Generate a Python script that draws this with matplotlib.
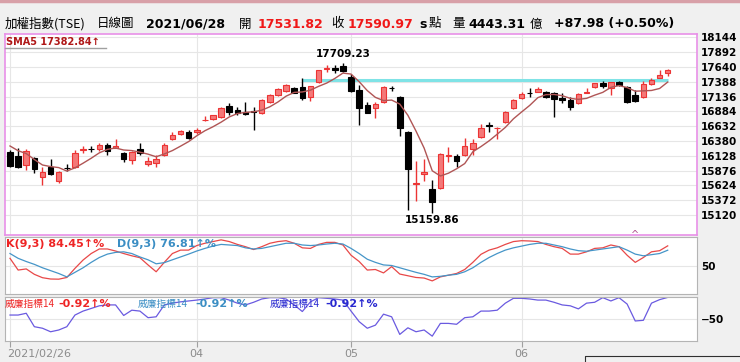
import matplotlib
matplotlib.use('Agg')
import matplotlib.pyplot as plt
from matplotlib.lines import Line2D
import numpy as np

# daily candles of the TAIEX, 2021/02/26 .. 2021/06/28
opens = [16193, 16125, 15972, 16091, 15767, 15937, 15699, 15925, 15937, 16235,
         16250, 16244, 16312, 16261, 16176, 16057, 16244, 15989, 16006, 16142,
         16414, 16499, 16533, 16533, 16730, 16755, 16789, 16976, 16908, 16874,
         16891, 16857, 17044, 17164, 17232, 17283, 17300, 17130, 17385, 17600,
         17623, 17657, 17470, 17249, 16993, 16942, 17044, 17290, 17130, 16533,
         15650, 15818, 15563, 15580, 16130, 16125, 16142, 16244, 16448, 16645,
         16595, 16704, 16942, 17113, 17205, 17215, 17215, 17198, 17113, 17078,
         17027, 17205, 17300, 17368, 17283, 17385, 17300, 17164, 17130, 17351,
         17460, 17531.82]
highs = [16220, 16261, 16244, 16108, 15937, 16074, 15869, 15989, 16227, 16295,
         16295, 16346, 16346, 16414, 16193, 16210, 16346, 16108, 16142, 16346,
         16533, 16568, 16568, 16602, 16806, 16823, 16959, 17027, 16959, 17044,
         16959, 17096, 17181, 17283, 17351, 17300, 17453, 17317, 17589, 17674,
         17674, 17709.23, 17521, 17334, 17044, 17044, 17317, 17317, 17147, 16551,
         16040, 16074, 15716, 16176, 16278, 16159, 16431, 16414, 16670, 16704,
         16610, 16891, 17096, 17215, 17283, 17300, 17232, 17215, 17198, 17130,
         17198, 17283, 17368, 17402, 17385, 17402, 17317, 17249, 17402, 17453,
         17589, 17600]
lows = [15937, 15920, 15886, 15835, 15631, 15801, 15665, 15869, 15920, 16176,
        16193, 16210, 16142, 16255, 16023, 15989, 16142, 15954, 15937, 16125,
        16397, 16482, 16414, 16499, 16721, 16738, 16772, 16823, 16823, 16823,
        16568, 16840, 17027, 17147, 17215, 17198, 17078, 17061, 17368, 17555,
        17538, 17555, 17215, 16653, 16857, 16772, 17027, 17232, 16465, 15200,
        15358, 15699, 15159.86, 15563, 16023, 15937, 16125, 16142, 16431, 16533,
        16414, 16687, 16925, 17096, 17130, 17215, 17113, 16789, 17027, 16908,
        17010, 17198, 17283, 17283, 17164, 17317, 17027, 17050, 17113, 17334,
        17455, 17487]
closes = [15954, 15937, 16210, 15903, 15852, 15818, 15852, 15915, 16176, 16248,
          16240, 16312, 16210, 16295, 16074, 16193, 16176, 16040, 16074, 16312,
          16482, 16551, 16431, 16568, 16740, 16823, 16942, 16874, 16857, 16840,
          16874, 17078, 17164, 17266, 17334, 17198, 17113, 17317, 17589, 17615,
          17589, 17572, 17232, 16942, 16857, 17010, 17300, 17275, 16602, 15903,
          15665, 15852, 15341, 16159, 16142, 16040, 16295, 16346, 16602, 16630,
          16605, 16874, 17078, 17181, 17190, 17266, 17130, 17096, 17078, 16959,
          17181, 17215, 17368, 17317, 17385, 17334, 17044, 17060, 17345, 17419,
          17503, 17590.97]
prior_closes = [16341, 16452, 16410, 16318]

k_line = [62.6, 42, 44, 34.5, 28.6, 26.3, 26, 29, 45, 59.6,
          71, 79, 79, 75.4, 71, 67, 63.7, 51, 39, 55.5,
          71, 77, 77, 85, 89, 92, 95, 92, 87, 83,
          78, 83, 89, 92, 93.5, 89, 81, 80, 87, 90.6,
          90.6, 86, 68, 57, 42, 43, 37, 48, 35, 32,
          29, 28, 23, 30, 33, 36, 43, 55.5, 69.6, 77,
          81, 87, 92, 93.5, 93, 92, 87, 83, 80, 70,
          70, 74, 80, 81, 86, 83, 68, 55.5, 64, 74,
          76, 84.45]
d_line = [71, 62.6, 57, 52, 46, 41, 36, 30, 38, 46,
          55.5, 64, 70, 73, 74, 71, 65, 60, 53, 55,
          60, 65, 70, 75.4, 80, 84, 87, 86, 85, 81,
          79, 80, 83, 86, 89, 89, 86, 85, 86, 87.7,
          89, 87.7, 80, 71, 61, 55.5, 51, 50, 46, 42,
          38, 34.5, 30, 31, 33, 34.5, 39, 46, 55.5, 64,
          71, 77, 81, 84, 87, 89, 89, 86, 83, 79,
          76, 75, 77, 79, 81, 83, 77, 70, 67, 69,
          71, 76.81]
wr_line = [-41, -41, -37, -67.5, -71, -79, -75, -67.5, -41, -32,
           -26, -20, -18, -18, -42, -30, -32, -47, -45, -18,
           -14, -11, -9, -7, -4.5, -1.5, -1.5, -7, -14, -18,
           -12, -4.5, -1.5, -1.5, -4.5, -18, -33, -11, -1.5, -3,
           -4.5, -7, -32, -56, -71, -64, -39, -45, -85, -70,
           -79, -75, -89, -60, -60, -62, -47, -45, -32, -32,
           -30, -14, -3, -3, -4.5, -7, -7, -12, -18, -20,
           -27, -14, -12, -1.5, -9, -1.5, -16, -54.5, -53, -14,
           -6, -0.92]

price_ticks = [15120, 15372, 15624, 15876, 16128, 16380, 16632, 16884,
               17136, 17388, 17640, 17892, 18144]
month_idx = [0, 23, 42, 63]
month_labels = ['2021/02/26', '04', '05', '06']
resist_level = 17420
resist_from, resist_to = 36, 81
hi_idx, lo_idx = 41, 52

W, H = 740, 362
CJK = ['Noto Sans CJK TC', 'DejaVu Sans']


def fx(px):
    return px / W


def fy(py):
    return 1 - py / H


def panel(x0, y0, x1, y1):
    return fig.add_axes([fx(x0), fy(y1), (x1 - x0) / W, (y1 - y0) / H])


fig = plt.figure(figsize=(W / 100, H / 100), dpi=100, facecolor='#f0f0f0')
fig.add_artist(Line2D([0, 1], [fy(1), fy(1)], color='#d8a0a8', lw=2.5))

x = np.arange(len(closes))
o = np.array(opens)
c = np.array(closes)
xlim = ((5 - 10) / 8.12, (697 - 10) / 8.12)

# ---- price panel
ax = panel(5, 34, 697, 235)
ax.set_facecolor('white')
up = c >= o
edge = np.where(up, '#ec3434', 'black')
face = np.where(up, '#f47878', 'black')
ax.vlines(x, lows, highs, colors=edge, lw=1, zorder=3)
ax.bar(x, c - o, bottom=o, width=0.68, color=face, edgecolor=edge,
       linewidth=0.8, zorder=4)

allc = prior_closes + closes
sma = [np.mean(allc[i:i + 5]) for i in range(len(closes))]
ax.plot(x, sma, color='#b05555', lw=1, zorder=5)
ax.hlines(resist_level, resist_from, resist_to, color='#7fe3e6', lw=2.2, zorder=2)

ax.text(hi_idx, highs[hi_idx] + 60, '17709.23', ha='center', va='bottom',
        fontsize=7.5, fontweight='bold', zorder=6)
ax.text(lo_idx, lows[lo_idx] - 40, '15159.86', ha='center', va='top',
        fontsize=7.5, fontweight='bold', zorder=6)
ax.text(77, 14700, '^', ha='center', va='bottom', fontsize=7, color='#b05090')

ax.set_ylim(14779, 18202)
ax.set_yticks(price_ticks)
ax.yaxis.tick_right()
for sp in ax.spines.values():
    sp.set_color('#e890e8')
    sp.set_linewidth(1.2)

# ---- KD panel
ax2 = panel(5, 237, 697, 294)
ax2.set_facecolor('white')
ax2.plot(x, k_line, color='#e84848', lw=0.9)
ax2.plot(x, d_line, color='#4595c8', lw=0.9)
ax2.set_ylim(0, 100)
ax2.set_yticks([50])
ax2.yaxis.tick_right()

# ---- Williams %R panel
ax3 = panel(5, 297, 697, 341)
ax3.set_facecolor('white')
ax3.plot(x, wr_line, color='#6a5ae0', lw=0.9)
ax3.set_ylim(-100, 0)
ax3.set_yticks([-50])
ax3.yaxis.tick_right()

for a in (ax, ax2, ax3):
    a.set_xlim(*xlim)
    a.set_xticks(month_idx)
    a.tick_params(axis='x', length=0, labelbottom=False)
    a.tick_params(axis='y', length=0, pad=3, labelsize=7.5)
    for lbl in a.get_yticklabels():
        lbl.set_fontweight('bold')
    a.grid(True, color='#e6e6e6', lw=0.8)
    a.set_axisbelow(True)
for a in (ax2, ax3):
    for sp in a.spines.values():
        sp.set_color('#b4b4b4')

ax3.tick_params(axis='x', length=4, color='#a0a0a0', direction='out')

# ---- month labels
for i, lab in zip(month_idx, month_labels):
    px = 10 + 8.12 * i
    if i == 0:
        fig.text(fx(7), fy(354), lab, ha='left', va='center', fontsize=8, color='#8c8c8c')
    else:
        fig.text(fx(px), fy(354), lab, ha='center', va='center', fontsize=8, color='#8c8c8c')

# ---- title line
RED = '#f01818'
title_parts = [
    (5, '加權指數(TSE)', 'black', 'normal', CJK),
    (97, '日線圖', 'black', 'normal', CJK),
    (146, '2021/06/28', 'black', 'bold', ['DejaVu Sans']),
    (239, '開', 'black', 'normal', CJK),
    (258, '17531.82', RED, 'bold', ['DejaVu Sans']),
    (331, '收', 'black', 'normal', CJK),
    (348, '17590.97', RED, 'bold', ['DejaVu Sans']),
    (419, 's', 'black', 'bold', ['DejaVu Sans']),
    (429, '點', 'black', 'normal', CJK),
    (452, '量', 'black', 'normal', CJK),
    (468, '4443.31', 'black', 'bold', ['DejaVu Sans']),
    (530, '億', 'black', 'normal', CJK),
    (554, '+87.98 (+0.50%)', 'black', 'bold', ['DejaVu Sans']),
]
for px, s, col, wt, fam in title_parts:
    fig.text(fx(px), fy(24), s, ha='left', va='center', fontsize=9,
             color=col, fontweight=wt, family=fam)

# ---- indicator captions
fig.text(fx(6), fy(42), 'SMA5 17382.84↑', ha='left', va='center', fontsize=7,
         fontweight='bold', color='#b01818')
fig.add_artist(Line2D([fx(5), fx(106)], [fy(48), fy(48)], color='#a0a0a0', lw=1))
fig.text(fx(6), fy(244), 'K(9,3) 84.45↑%', ha='left', va='center', fontsize=8,
         fontweight='bold', color='#ee2424')
fig.text(fx(117), fy(244), 'D(9,3) 76.81↑%', ha='left', va='center', fontsize=8,
         fontweight='bold', color='#3b8ec4')

wr_caps = [(5, 58, '#ee2424'), (138, 195, '#3b8ec4'), (270, 325, '#2828d0')]
for px_lab, px_val, col in wr_caps:
    fig.text(fx(px_lab), fy(304), '威廉指標14', ha='left', va='center', fontsize=7,
             color=col, family=CJK)
    fig.text(fx(px_val), fy(304), '-0.92↑%', ha='left', va='center', fontsize=8,
             fontweight='bold', color=col)

# box edge at the bottom right
fig.add_artist(Line2D([fx(585), fx(585), fx(740)], [fy(362), fy(356), fy(356)],
                      color='#303030', lw=0.8))

fig.savefig('out.png', dpi=100, facecolor=fig.get_facecolor())
